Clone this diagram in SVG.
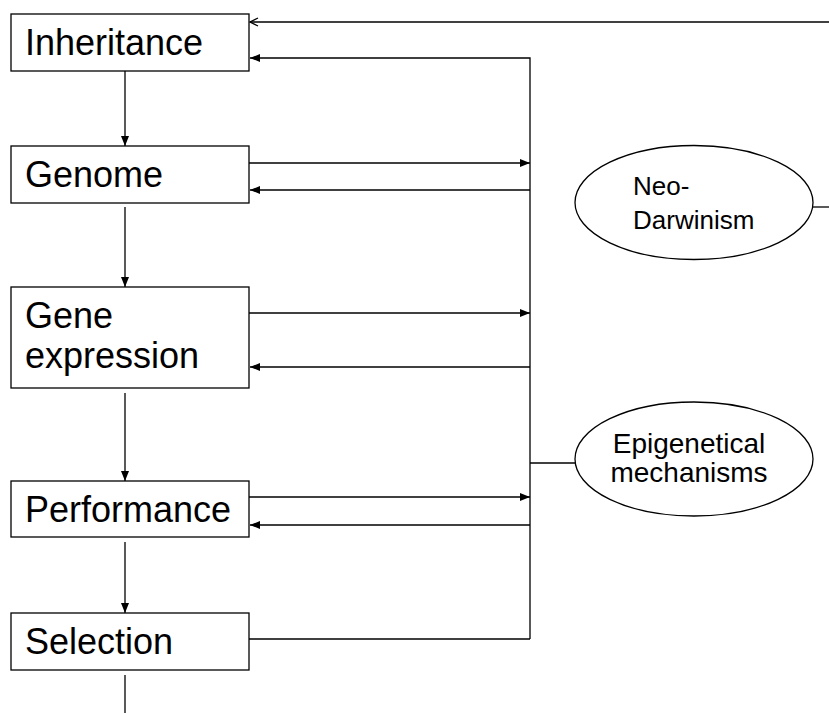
<svg xmlns="http://www.w3.org/2000/svg" width="829" height="713" viewBox="0 0 829 713">
<style>
.box{fill:#fff;stroke:#000;stroke-width:1.3}
.lbl{font-family:"Liberation Sans",Arial,sans-serif;font-size:36px;fill:#000}
.el{fill:#fff;stroke:#000;stroke-width:1.3}
.elbl{font-family:"Liberation Sans",Arial,sans-serif;fill:#000}
.c{stroke:#000;stroke-width:1.3;fill:none}
</style>
<defs>
<marker id="ah" viewBox="0 0 10 8" refX="10" refY="4" markerWidth="10" markerHeight="8" markerUnits="userSpaceOnUse" orient="auto">
<path d="M0,0 L10,4 L0,8 z" fill="#000"/>
</marker>
<marker id="ao" viewBox="0 0 10 10" refX="9" refY="5" markerWidth="10" markerHeight="10" markerUnits="userSpaceOnUse" orient="auto">
<path d="M1,1 L9,5 L1,9" fill="none" stroke="#000" stroke-width="1.3"/>
</marker>
</defs>
<rect width="829" height="713" fill="#fff"/>
<g id="connectors">
<line class="c" x1="829" y1="22" x2="250" y2="22" marker-end="url(#ao)"/>
<polyline class="c" points="530,639 530,58 250,58" marker-end="url(#ah)"/>
<line class="c" x1="125" y1="71" x2="125" y2="146" marker-end="url(#ah)"/>
<line class="c" x1="249" y1="163" x2="530" y2="163" marker-end="url(#ah)"/>
<line class="c" x1="530" y1="190" x2="250" y2="190" marker-end="url(#ah)"/>
<line class="c" x1="125" y1="207" x2="125" y2="287" marker-end="url(#ah)"/>
<line class="c" x1="249" y1="313" x2="530" y2="313" marker-end="url(#ah)"/>
<line class="c" x1="530" y1="367" x2="250" y2="367" marker-end="url(#ah)"/>
<line class="c" x1="125" y1="393" x2="125" y2="481" marker-end="url(#ah)"/>
<line class="c" x1="249" y1="497" x2="530" y2="497" marker-end="url(#ah)"/>
<line class="c" x1="530" y1="525" x2="250" y2="525" marker-end="url(#ah)"/>
<line class="c" x1="125" y1="542" x2="125" y2="613" marker-end="url(#ah)"/>
<line class="c" x1="249" y1="639" x2="530" y2="639"/>
<line class="c" x1="125" y1="675" x2="125" y2="713"/>
<line class="c" x1="530" y1="463" x2="575" y2="463"/>
<line class="c" x1="813" y1="207" x2="829" y2="207"/>
</g>
<g id="inheritance">
<rect class="box" x="11" y="14" width="238" height="57"/>
<text class="lbl" x="25" y="55">Inheritance</text>
</g>
<g id="genome">
<rect class="box" x="11" y="146" width="238" height="57"/>
<text class="lbl" x="25" y="187">Genome</text>
</g>
<g id="gene-expression">
<rect class="box" x="11" y="287" width="238" height="101"/>
<text class="lbl" x="25" y="328">Gene</text>
<text class="lbl" x="25" y="368">expression</text>
</g>
<g id="performance">
<rect class="box" x="11" y="481" width="238" height="56"/>
<text class="lbl" x="25" y="522">Performance</text>
</g>
<g id="selection">
<rect class="box" x="11" y="613" width="238" height="57"/>
<text class="lbl" x="25" y="654">Selection</text>
</g>
<g id="neo-darwinism">
<ellipse class="el" cx="694" cy="202.5" rx="119" ry="57"/>
<text class="elbl" font-size="26" x="633" y="195">Neo-</text>
<text class="elbl" font-size="26" x="633" y="229">Darwinism</text>
</g>
<g id="epigenetical">
<ellipse class="el" cx="694" cy="459" rx="119" ry="57"/>
<text class="elbl" font-size="28" x="689" y="453" text-anchor="middle">Epigenetical</text>
<text class="elbl" font-size="28" x="689" y="482" text-anchor="middle">mechanisms</text>
</g>
</svg>
